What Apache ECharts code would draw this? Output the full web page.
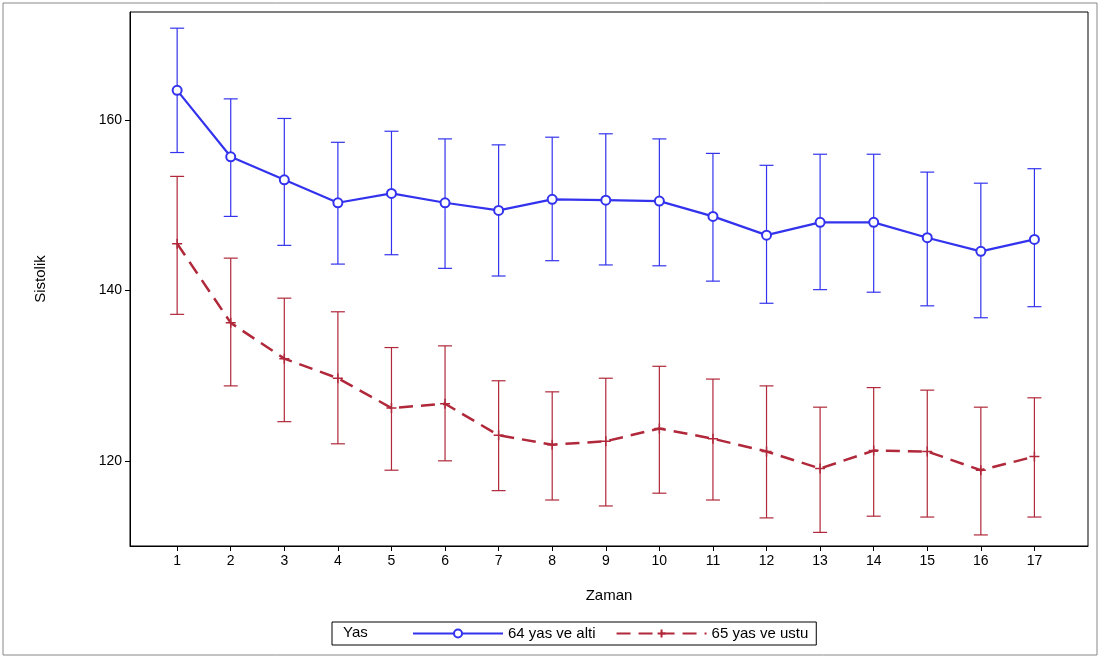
<!DOCTYPE html>
<html>
<head>
<meta charset="utf-8">
<script src="https://cdn.jsdelivr.net/npm/echarts@6/dist/echarts.min.js"></script>
<style>
  html, body { margin: 0; padding: 0; background: #fff; }
  #main { width: 1101px; height: 659px; }
</style>
</head>
<body>
<div id="main"></div>
<script>
let zaman = [1, 2, 3, 4, 5, 6, 7, 8, 9, 10, 11, 12, 13, 14, 15, 16, 17];

// 64 yas ve alti
let altiMean = [163.5, 155.7, 153.0, 150.3, 151.4, 150.3, 149.4, 150.7, 150.6, 150.5, 148.7, 146.5, 148.0, 148.0, 146.2, 144.6, 146.0];
let altiUp = [170.8, 162.5, 160.2, 157.4, 158.7, 157.8, 157.1, 158.0, 158.4, 157.8, 156.1, 154.7, 156.0, 156.0, 153.9, 152.6, 154.3];
let altiLow = [156.2, 148.7, 145.3, 143.1, 144.2, 142.6, 141.7, 143.5, 143.0, 142.9, 141.1, 138.5, 140.1, 139.8, 138.2, 136.8, 138.1];

// 65 yas ve ustu
let ustuMean = [145.5, 136.2, 132.0, 129.7, 126.2, 126.7, 123.0, 121.9, 122.3, 123.8, 122.6, 121.1, 119.1, 121.2, 121.1, 118.9, 120.5];
let ustuUp = [153.4, 143.8, 139.1, 137.5, 133.3, 133.5, 129.4, 128.1, 129.7, 131.1, 129.6, 128.8, 126.3, 128.6, 128.3, 126.3, 127.4];
let ustuLow = [137.2, 128.8, 124.6, 122.0, 118.9, 120.0, 116.5, 115.4, 114.7, 116.2, 115.4, 113.3, 111.6, 113.5, 113.4, 111.3, 113.4];

let yTicks = [120, 140, 160];

let colors = { alti: "#3333ee", ustu: "#b0283a", text: "#000" };

let myChart = echarts.init(document.getElementById("main"));

// Hata cubuklari icin custom seri
let errorBars = (low, up, color) => ({
  type: "custom",
  silent: true,
  data: zaman.map((z, i) => [z, low[i], up[i]]),
  renderItem: (params, api) => {
    let lo = api.coord([api.value(0), api.value(1)]);
    let hi = api.coord([api.value(0), api.value(2)]);
    let w = 7;
    let style = { stroke: color, lineWidth: 1.2 };
    return {
      type: "group",
      children: [
        { type: "line", shape: { x1: lo[0], y1: lo[1], x2: hi[0], y2: hi[1] }, style },
        { type: "line", shape: { x1: lo[0] - w, y1: lo[1], x2: lo[0] + w, y2: lo[1] }, style },
        { type: "line", shape: { x1: hi[0] - w, y1: hi[1], x2: hi[0] + w, y2: hi[1] }, style },
      ],
    };
  },
  z: 1,
});

let plusPath = "path://M0,5L10,5M5,0L5,10";

myChart.setOption({
  animation: false,
  textStyle: { fontFamily: "Liberation Sans, Arial, sans-serif", color: colors.text },
  grid: { left: 130, right: 13, top: 12, bottom: 113 },
  graphic: [
    { type: "rect", shape: { x: 3, y: 3, width: 1094, height: 652 }, style: { fill: "none", stroke: "#888", lineWidth: 1 }, silent: true },
    { type: "text", left: 343, top: 625, style: { text: "Yas", fontSize: 15, fill: "#000", fontFamily: "Liberation Sans, Arial, sans-serif" } },
    { type: "rect", shape: { x: 130, y: 12, width: 958, height: 534 }, style: { fill: "none", stroke: "#000", lineWidth: 1 }, silent: true },
  ],
  legend: {
    bottom: 14,
    left: 332,
    padding: [4, 8, 4, 80],
    borderColor: "#000",
    borderWidth: 1,
    itemWidth: 90,
    itemHeight: 10,
    itemGap: 20,
    textStyle: { fontSize: 15, color: "#000" },
    data: ["64 yas ve alti", "65 yas ve ustu"],
  },
  xAxis: {
    type: "value",
    min: 0.12,
    max: 18,
    interval: 1,
    name: "Zaman",
    nameLocation: "middle",
    nameGap: 42,
    nameTextStyle: { fontSize: 15 },
    axisLine: { show: true, onZero: false, lineStyle: { color: "#000" } },
    axisTick: { lineStyle: { color: "#000" }, customValues: zaman },
    axisLabel: { fontSize: 14, color: "#000", customValues: zaman },
    splitLine: { show: false },
  },
  yAxis: {
    type: "value",
    min: 110,
    max: 172.7,
    name: "Sistolik",
    nameLocation: "middle",
    nameGap: 82,
    nameTextStyle: { fontSize: 15 },
    axisLine: { show: true, lineStyle: { color: "#000" } },
    axisTick: { lineStyle: { color: "#000" }, customValues: yTicks },
    axisLabel: { fontSize: 14, color: "#000", customValues: yTicks },
    splitLine: { show: false },
  },
  series: [
    errorBars(altiLow, altiUp, colors.alti),
    errorBars(ustuLow, ustuUp, colors.ustu),
    {
      name: "64 yas ve alti",
      type: "line",
      data: zaman.map((z, i) => [z, altiMean[i]]),
      color: colors.alti,
      lineStyle: { width: 2.2, color: colors.alti },
      symbol: "emptyCircle",
      symbolSize: 9,
      itemStyle: { color: colors.alti, borderWidth: 1.2 },
      z: 3,
    },
    {
      name: "65 yas ve ustu",
      type: "line",
      data: zaman.map((z, i) => [z, ustuMean[i]]),
      color: colors.ustu,
      lineStyle: { width: 2.5, type: [14, 8], color: colors.ustu },
      symbol: plusPath,
      symbolSize: 10,
      itemStyle: { color: "none", borderColor: colors.ustu, borderWidth: 1.5 },
      z: 3,
    },
  ],
});

window.addEventListener("resize", function () {
  myChart.resize();
});
</script>
</body>
</html>
